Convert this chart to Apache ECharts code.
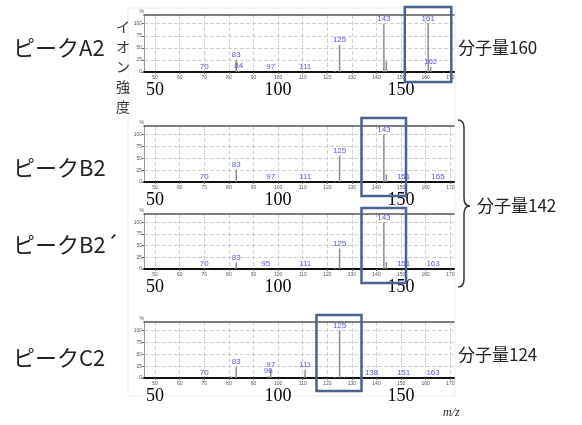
<!DOCTYPE html>
<html>
<head>
<meta charset="utf-8">
<script src="https://cdn.jsdelivr.net/npm/echarts@6/dist/echarts.min.js"></script>
<style>
html, body { margin: 0; padding: 0; background: #fff; }
#main { width: 582px; height: 425px; }
</style>
</head>
<body>
<div id="main"></div>
<script>
// ピークA2
var mzA2  = [70, 83, 84, 97, 111, 123, 125, 143, 144, 161, 162];
var intA2 = [0.5, 25, 3, 0.5, 0.5, 2, 56, 100, 22, 100, 10];
var labA2 = [70, 83, 84, 97, 111, 125, 143, 161, 162];

// ピークB2
var mzB2  = [70, 83, 97, 111, 123, 125, 143, 144, 151, 165];
var intB2 = [0.5, 26, 0.5, 0.5, 2, 56, 100, 16, 0.5, 0.5];
var labB2 = [70, 83, 97, 111, 125, 143, 151, 165];

// ピークB2´
var mzB2d  = [70, 83, 95, 111, 123, 125, 143, 144, 151, 163];
var intB2d = [0.5, 14, 0.5, 0.5, 3, 44, 100, 15, 0.5, 0.5];
var labB2d = [70, 83, 95, 111, 125, 143, 151, 163];

// ピークC2
var mzC2  = [70, 81, 83, 96, 97, 111, 123, 125, 127, 138, 151, 163];
var intC2 = [0.5, 3, 23, 4, 18, 17, 2, 100, 2, 0.5, 0.5, 0.5];
var labC2 = [70, 83, 96, 97, 111, 125, 138, 151, 163];

// 目盛り
var xTicks = [50, 60, 70, 80, 90, 100, 110, 120, 130, 140, 150, 160, 170];
var bigTicks = [50, 100, 150];
var yTicks = [0, 25, 50, 75, 100];

var peakNames = ['ピークA2', 'ピークB2', 'ピークB2´', 'ピークC2'];
var massNames = ['分子量160', '分子量142', '分子量124'];
// 枠で囲む m/z 範囲
var boxRanges = [[151.5, 170.4], [133.9, 152], [133.9, 152], [115.6, 133.9]];

var panels = [
    {mz: mzA2, val: intA2, lab: labA2},
    {mz: mzB2, val: intB2, lab: labB2},
    {mz: mzB2d, val: intB2d, lab: labB2d},
    {mz: mzC2, val: intC2, lab: labC2}
];

var gridTops = [15, 126, 214, 322];
var gridHeights = [57, 56, 55, 56];
var boxTops = [7, 118, 208, 315];
var boxBottoms = [82, 196, 283, 391];

var myChart = echarts.init(document.getElementById('main'));

var grids = [], xAxes = [], yAxes = [], series = [];
for (var i = 0; i < panels.length; i++) {
    grids.push({left: 144, right: 128, top: gridTops[i], height: gridHeights[i]});

    // 小さい目盛り付きの本体の x 軸
    xAxes.push({
        type: 'value', gridIndex: i, min: 45.5, max: 171.5, position: 'bottom',
        axisLine: {lineStyle: {color: '#111', width: 2}},
        axisTick: {show: true, length: 2, customValues: xTicks, lineStyle: {color: '#666'}},
        axisLabel: {customValues: xTicks, fontSize: 5, color: '#555', margin: 3},
        splitLine: {show: true, lineStyle: {color: '#d0d0d0', type: 'dashed', width: 1}}
    });
    // 大きい 50/100/150
    xAxes.push({
        type: 'value', gridIndex: i, min: 45.5, max: 171.5, position: 'bottom',
        axisLine: {show: false}, axisTick: {show: false}, splitLine: {show: false},
        axisLabel: {customValues: bigTicks, fontSize: 18, color: '#000',
            fontFamily: 'Liberation Serif', margin: 9}
    });
    // 上側の線
    xAxes.push({
        type: 'value', gridIndex: i, min: 45.5, max: 171.5, position: 'top',
        axisLine: {show: true, lineStyle: {color: '#555', width: 1.5}},
        axisTick: {show: false}, axisLabel: {show: false}, splitLine: {show: false}
    });

    yAxes.push({
        type: 'value', gridIndex: i, min: 0, max: 118, interval: 25,
        name: '%', nameLocation: 'end', nameGap: 1,
        nameTextStyle: {fontSize: 5, color: '#555', align: 'right'},
        axisLine: {show: true, lineStyle: {color: '#999', width: 1}},
        axisTick: {show: true, length: 2, customValues: yTicks, lineStyle: {color: '#666'}},
        axisLabel: {customValues: yTicks, fontSize: 5, color: '#555', margin: 2},
        splitLine: {show: true, lineStyle: {color: '#d0d0d0', type: 'dashed', width: 1}}
    });

    var p = panels[i];
    var data = [];
    for (var j = 0; j < p.mz.length; j++) {
        data.push({
            value: [p.mz[j], p.val[j]],
            label: {show: p.lab.indexOf(p.mz[j]) >= 0}
        });
    }
    series.push({
        type: 'bar', xAxisIndex: i * 3, yAxisIndex: i,
        barWidth: 1.5,
        itemStyle: {color: '#8c8c8c'},
        label: {
            position: 'top', distance: 1, fontSize: 8, color: '#5a5ae6',
            fontFamily: 'Liberation Sans',
            formatter: function (prm) { return prm.value[0]; }
        },
        data: data
    });
}

var option = {
    animation: false,
    grid: grids,
    xAxis: xAxes,
    yAxis: yAxes,
    series: series
};
myChart.setOption(option);

// 注記
var graphics = [];
graphics.push({type: 'rect', shape: {x: 128, y: 8, width: 327, height: 388},
    style: {fill: 'none', stroke: '#ececec', lineWidth: 1}, z: 0, silent: true});

var nameY = [48, 168, 245, 358];
for (var k = 0; k < peakNames.length; k++) {
    graphics.push({type: 'text', x: 13, y: nameY[k], z: 10,
        style: {text: peakNames[k], font: '22px "Noto Sans CJK JP"', fill: '#222',
            verticalAlign: 'middle'}});
}
graphics.push({type: 'text', x: 458, y: 48, z: 10,
    style: {text: massNames[0], font: '17px "Noto Sans CJK JP"', fill: '#222', verticalAlign: 'middle'}});
graphics.push({type: 'text', x: 477, y: 206, z: 10,
    style: {text: massNames[1], font: '17px "Noto Sans CJK JP"', fill: '#222', verticalAlign: 'middle'}});
graphics.push({type: 'text', x: 458, y: 355, z: 10,
    style: {text: massNames[2], font: '17px "Noto Sans CJK JP"', fill: '#222', verticalAlign: 'middle'}});

// イオン強度 (縦書き)
graphics.push({type: 'text', x: 123, y: 17, z: 10,
    style: {text: 'イ\nオ\nン\n強\n度', font: '14px "Noto Sans CJK JP"', fill: '#333',
        align: 'center', lineHeight: 20}});

graphics.push({type: 'text', x: 443, y: 413, z: 10,
    style: {text: 'm/z', font: 'italic 12px "Liberation Serif"', fill: '#222', verticalAlign: 'middle'}});

// 中かっこ
var braceStyle = {fill: 'none', stroke: '#333', lineWidth: 1.5};
graphics.push({type: 'bezierCurve', z: 10, style: braceStyle,
    shape: {x1: 458, y1: 120, cpx1: 464, cpy1: 120, x2: 464, y2: 128}});
graphics.push({type: 'line', z: 10, style: braceStyle,
    shape: {x1: 464, y1: 128, x2: 464, y2: 198}});
graphics.push({type: 'bezierCurve', z: 10, style: braceStyle,
    shape: {x1: 464, y1: 198, cpx1: 464, cpy1: 206, x2: 470, y2: 206}});
graphics.push({type: 'bezierCurve', z: 10, style: braceStyle,
    shape: {x1: 470, y1: 206, cpx1: 464, cpy1: 206, x2: 464, y2: 214}});
graphics.push({type: 'line', z: 10, style: braceStyle,
    shape: {x1: 464, y1: 214, x2: 464, y2: 279}});
graphics.push({type: 'bezierCurve', z: 10, style: braceStyle,
    shape: {x1: 464, y1: 279, cpx1: 464, cpy1: 287, x2: 458, y2: 287}});

// 青い枠
for (var b = 0; b < boxRanges.length; b++) {
    var x0 = myChart.convertToPixel({xAxisIndex: b * 3}, boxRanges[b][0]);
    var x1 = myChart.convertToPixel({xAxisIndex: b * 3}, boxRanges[b][1]);
    graphics.push({type: 'rect', z: 20,
        shape: {x: x0, y: boxTops[b], width: x1 - x0, height: boxBottoms[b] - boxTops[b]},
        style: {fill: 'none', stroke: '#46648f', lineWidth: 2.5}});
}

myChart.setOption({graphic: graphics});
</script>
</body>
</html>
